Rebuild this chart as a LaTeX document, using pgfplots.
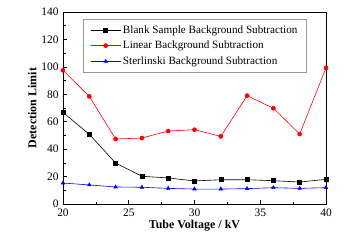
\documentclass[border=0pt]{standalone}
\usepackage{pgfplots}
\pgfplotsset{compat=1.18}
\usepackage{fontspec}
\setmainfont{Liberation Serif}
\begin{document}
\begin{tikzpicture}[x=1bp,y=1bp]
\begin{axis}[
  name=ax,
  scale only axis,
  width=263bp, height=192bp,
  xmin=20, xmax=40, ymin=0, ymax=140,
  xtick={20,25,30,35,40},
  ytick={0,20,...,140},
  minor x tick num=1,
  minor y tick num=1,
  tick align=inside,
  xtick pos=bottom, ytick pos=left,
  major tick length=4bp, minor tick length=2.5bp,
  tick style={black, line width=0.6pt},
  axis line style={line width=0.8pt},
  /pgf/number format/assume math mode=true,
  ticklabel style={font=\fontsize{11.5}{13}\selectfont},
  xticklabel style={yshift=-1bp},
  yticklabel style={xshift=-1bp},
  xlabel={\textbf{Tube Voltage / kV}},
  ylabel={\textbf{Detection Limit}},
  label style={font=\fontsize{12}{14}\selectfont},
  xlabel style={yshift=3bp},
  ylabel style={yshift=-2bp},
  legend style={at={(0.076,0.964)}, anchor=north west, draw=gray!80, line width=0.8pt,
    font=\fontsize{11.2}{13.4}\selectfont, row sep=2.5bp, inner xsep=7bp, inner ysep=4bp},
  legend cell align=left,
  legend image code/.code={\draw[mark repeat=2,mark phase=2] plot coordinates {(0bp,0bp)(15bp,0bp)(30bp,0bp)};},
  every axis plot/.append style={line width=0.6pt, mark size=2bp},
]
\addplot[black, mark=square*] coordinates {
(20,66.8) (22,50.8) (24,29.9) (26,20.2) (28,19) (30,16.8) (32,17.7) (34,17.7) (36,17) (38,16) (40,18)};
\addlegendentry{Blank Sample Background Subtraction}
\addplot[red, mark=*] coordinates {
(20,97.5) (22,78.5) (24,47.4) (26,48.1) (28,53.2) (30,54.2) (32,49.3) (34,79) (36,69.8) (38,51) (40,99.2)};
\addlegendentry{Linear Background Subtraction}
\addplot[blue, mark=triangle*] coordinates {
(20,15.3) (22,13.9) (24,12.4) (26,12.2) (28,11.4) (30,10.9) (32,10.9) (34,11.2) (36,11.9) (38,11.4) (40,11.9)};
\addlegendentry{Sterlinski Background Subtraction}
\end{axis}
\path (ax.south west) ++(-63bp,-38bp) rectangle ++(356bp,242bp);
\end{tikzpicture}
\end{document}
